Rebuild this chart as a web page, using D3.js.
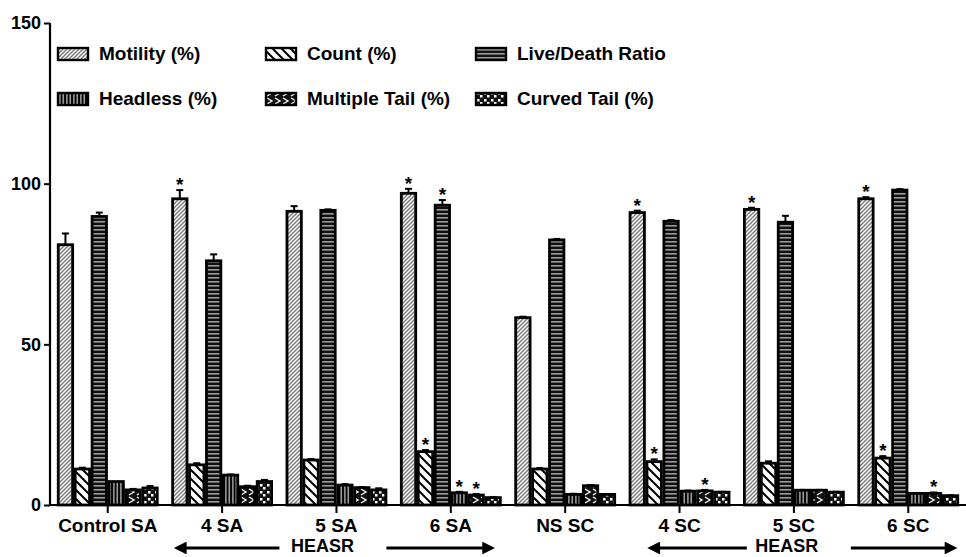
<html>
<head>
  <script src="https://d3js.org/d3.v7.min.js"></script>
  <style>
    body { margin: 0; background: #fff; }
    text { font-family: "Liberation Sans", Arial, sans-serif; font-weight: bold; fill: #000; }
  </style>
</head>
<body>
  <div id="chart"></div>
  <script>

    // Groups on the x axis
    var groups = ["Control SA", "4 SA", "5 SA", "6 SA", "NS SC", "4 SC", "5 SC", "6 SC"];

    // Series, in bar order inside each group
    var series = ["Motility (%)", "Count (%)", "Live/Death Ratio", "Headless (%)", "Multiple Tail (%)", "Curved Tail (%)"];

    // Mean values per series (one value per group)
    var motility   = [81.0, 95.3, 91.4, 97.0, 58.3, 91.0, 92.0, 95.3];
    var count      = [11.2, 12.5, 14.0, 16.6, 11.2, 13.5, 13.0, 14.6];
    var liveDeath  = [89.8, 76.0, 91.7, 93.3, 82.5, 88.3, 88.0, 98.0];
    var headless   = [7.3, 9.3, 6.2, 3.8, 3.3, 4.3, 4.6, 3.6];
    var multiple   = [4.7, 5.7, 5.4, 3.1, 6.0, 4.4, 4.6, 3.6];
    var curved     = [5.3, 7.3, 4.7, 2.3, 3.3, 4.0, 4.0, 2.9];

    // Error (SEM) per series
    var motilityErr  = [3.5, 2.7, 1.6, 1.4, 0.3, 0.6, 0.5, 0.5];
    var countErr     = [0.4, 0.5, 0.3, 0.5, 0.3, 0.7, 0.6, 0.6];
    var liveDeathErr = [1.2, 2.0, 0.3, 1.6, 0.3, 0.4, 2.0, 0.3];
    var headlessErr  = [0.0, 0.2, 0.3, 0.3, 0.2, 0.2, 0.1, 0.1];
    var multipleErr  = [0.3, 0.3, 0.2, 0.3, 0.2, 0.3, 0.1, 0.3];
    var curvedErr    = [0.6, 0.5, 0.5, 0.2, 0.1, 0.1, 0.1, 0.1];

    // Significance stars (1 = star above the bar)
    var motilityStar  = [0, 1, 0, 1, 0, 1, 1, 1];
    var countStar     = [0, 0, 0, 1, 0, 1, 0, 1];
    var liveDeathStar = [0, 0, 0, 1, 0, 0, 0, 0];
    var headlessStar  = [0, 0, 0, 1, 0, 0, 0, 0];
    var multipleStar  = [0, 0, 0, 1, 0, 1, 0, 1];
    var curvedStar    = [0, 0, 0, 0, 0, 0, 0, 0];

    var yTicks = [0, 50, 100, 150];

    var values = [motility, count, liveDeath, headless, multiple, curved];
    var errors = [motilityErr, countErr, liveDeathErr, headlessErr, multipleErr, curvedErr];
    var stars  = [motilityStar, countStar, liveDeathStar, headlessStar, multipleStar, curvedStar];
    var patternIds = ["pMot", "pCnt", "pLive", "pHead", "pMult", "pCurv"];

    // flat table built from the arrays above
    var data = [];
    groups.forEach(function(g, gi) {
      series.forEach(function(s, si) {
        data.push({group: g, series: s, si: si, value: values[si][gi], err: errors[si][gi], star: stars[si][gi]});
      });
    });

    var W = 966, H = 557;
    var svg = d3.select("#chart").append("svg")
      .attr("width", W).attr("height", H);

    // patterns
    var defs = svg.append("defs");
    function pat(id, w, h) {
      return defs.append("pattern").attr("id", id)
        .attr("patternUnits", "userSpaceOnUse").attr("width", w).attr("height", h);
    }
    var p;
    // Motility: grey with white diagonal stripes
    p = pat("pMot", 4, 4);
    p.append("rect").attr("width", 4).attr("height", 4).attr("fill", "#7a7a7a");
    p.append("path").attr("d", "M-1,1 l2,-2 M0,4 l4,-4 M3,5 l2,-2").attr("stroke", "#fff").attr("stroke-width", 1.4);
    // Count: white with sparse black back-diagonals
    p = pat("pCnt", 9, 9);
    p.append("rect").attr("width", 9).attr("height", 9).attr("fill", "#fff");
    p.append("path").attr("d", "M-2,-2 l13,13 M-2,7 l4,4 M7,-2 l4,4").attr("stroke", "#000").attr("stroke-width", 2);
    // Live/Death: black with grey horizontal lines
    p = pat("pLive", 4, 4);
    p.append("rect").attr("width", 4).attr("height", 4).attr("fill", "#111");
    p.append("rect").attr("y", 1).attr("width", 4).attr("height", 1.6).attr("fill", "#9a9a9a");
    // Headless: black with white vertical lines
    p = pat("pHead", 3.5, 4);
    p.append("rect").attr("width", 3.5).attr("height", 4).attr("fill", "#000");
    p.append("rect").attr("x", 1.3).attr("width", 1).attr("height", 4).attr("fill", "#fff");
    // Multiple tail: black with white zigzag
    p = pat("pMult", 8, 8);
    p.append("rect").attr("width", 8).attr("height", 8).attr("fill", "#111");
    p.append("path").attr("d", "M1,1 L6,4 L1,7").attr("fill", "none").attr("stroke", "#fff").attr("stroke-width", 1.3);
    // Curved tail: black with white squares
    p = pat("pCurv", 7, 7);
    p.append("rect").attr("width", 7).attr("height", 7).attr("fill", "#111");
    p.append("rect").attr("x", 1).attr("y", 1).attr("width", 2.5).attr("height", 2.5).attr("fill", "#fff");
    p.append("rect").attr("x", 4).attr("y", 4).attr("width", 2.5).attr("height", 2.5).attr("fill", "#fff");

    // scales
    var x0 = d3.scaleBand().domain(groups).range([50, 966]).paddingInner(0.09).paddingOuter(0.05);
    var x1 = d3.scaleBand().domain(series).range([0, x0.bandwidth()]).padding(0.15);
    var y = d3.scaleLinear().domain([0, 150]).range([505, 23]);

    // bars
    var gBars = svg.append("g");
    gBars.selectAll("rect")
      .data(data)
      .join("rect")
        .attr("x", d => x0(d.group) + x1(d.series))
        .attr("y", d => y(d.value))
        .attr("width", x1.bandwidth())
        .attr("height", d => y(0) - y(d.value))
        .attr("fill", d => "url(#" + patternIds[d.si] + ")")
        .attr("stroke", "#000")
        .attr("stroke-width", 2.8);

    // error bars (upper half only)
    var eb = svg.append("g").attr("stroke", "#000").attr("stroke-width", 2);
    eb.selectAll("line.v")
      .data(data.filter(d => d.err > 0))
      .join("line").attr("class", "v")
        .attr("x1", d => x0(d.group) + x1(d.series) + x1.bandwidth() / 2)
        .attr("x2", d => x0(d.group) + x1(d.series) + x1.bandwidth() / 2)
        .attr("y1", d => y(d.value))
        .attr("y2", d => y(d.value + d.err));
    eb.selectAll("line.c")
      .data(data.filter(d => d.err > 0))
      .join("line").attr("class", "c")
        .attr("x1", d => x0(d.group) + x1(d.series) + x1.bandwidth() / 2 - 3.5)
        .attr("x2", d => x0(d.group) + x1(d.series) + x1.bandwidth() / 2 + 3.5)
        .attr("y1", d => y(d.value + d.err))
        .attr("y2", d => y(d.value + d.err));

    // stars
    svg.append("g").selectAll("text")
      .data(data.filter(d => d.star))
      .join("text")
        .attr("x", d => x0(d.group) + x1(d.series) + x1.bandwidth() / 2)
        .attr("y", d => y(d.value + d.err) + 1)
        .attr("text-anchor", "middle")
        .style("font-size", "19px")
        .text("*");

    // y axis
    var yAxis = svg.append("g")
      .attr("transform", "translate(50,0)")
      .call(d3.axisLeft(y).tickValues(yTicks).tickSize(6).tickPadding(3));
    yAxis.select(".domain").attr("stroke-width", 2.2).attr("d", "M0," + y(150) + "V" + y(0));
    yAxis.selectAll(".tick line").attr("stroke-width", 2);
    yAxis.selectAll(".tick text").style("font-size", "18px").style("font-family", "Liberation Sans, Arial, sans-serif").style("font-weight", "bold");

    // x axis
    var xAxis = svg.append("g")
      .attr("transform", "translate(0," + y(0) + ")")
      .call(d3.axisBottom(x0).tickSize(8).tickPadding(6));
    xAxis.select(".domain").attr("stroke-width", 2.2).attr("d", "M49,0H966");
    xAxis.selectAll(".tick line").attr("stroke-width", 2);
    xAxis.selectAll(".tick text").style("font-size", "19px").style("font-family", "Liberation Sans, Arial, sans-serif").style("font-weight", "bold");

    // legend
    var legendX = [58, 266, 476];
    var legendY = [60, 105];
    var leg = svg.append("g").selectAll("g")
      .data(series)
      .join("g")
        .attr("transform", (d, i) => "translate(" + legendX[i % 3] + "," + legendY[Math.floor(i / 3)] + ")");
    leg.append("rect")
      .attr("x", 0).attr("y", -12).attr("width", 30).attr("height", 12)
      .attr("fill", (d, i) => "url(#" + patternIds[i] + ")")
      .attr("stroke", "#000").attr("stroke-width", 2.4);
    leg.append("text")
      .attr("x", 41).attr("y", 0)
      .style("font-size", "19px")
      .text(d => d);

    // HEASR arrows under the treated groups (pixel offsets from the group bands)
    var arrows = [
      {from: "4 SA", mid: "5 SA", to: "6 SA", tip0: 2, end0: -5, txt: 38, start1: 102, tip1: 98},
      {from: "4 SC", mid: "5 SC", to: "6 SC", tip0: 18, end0: 5, txt: 45, start1: 109, tip1: 103}
    ];
    var arrowY = 548;
    defs.append("marker").attr("id", "head")
      .attr("viewBox", "0 0 10 10").attr("refX", 2).attr("refY", 5)
      .attr("markerWidth", 4.6).attr("markerHeight", 4).attr("orient", "auto-start-reverse")
      .attr("markerUnits", "strokeWidth")
      .append("path").attr("d", "M0,0 L10,5 L0,10 Z").attr("fill", "#000");
    var ag = svg.append("g").selectAll("g").data(arrows).join("g");
    ag.append("line")
      .attr("x1", d => x0(d.from) + d.tip0 + 12)
      .attr("x2", d => x0(d.mid) + d.end0)
      .attr("y1", arrowY).attr("y2", arrowY)
      .attr("stroke", "#000").attr("stroke-width", 3.2)
      .attr("marker-start", "url(#head)");
    ag.append("line")
      .attr("x1", d => x0(d.mid) + d.start1)
      .attr("x2", d => x0(d.to) + d.tip1 - 12)
      .attr("y1", arrowY).attr("y2", arrowY)
      .attr("stroke", "#000").attr("stroke-width", 3.2)
      .attr("marker-end", "url(#head)");
    ag.append("text")
      .attr("x", d => x0(d.mid) + d.txt)
      .attr("y", 552)
      .attr("text-anchor", "middle")
      .style("font-size", "18px")
      .text("HEASR");

  </script>
</body>
</html>
